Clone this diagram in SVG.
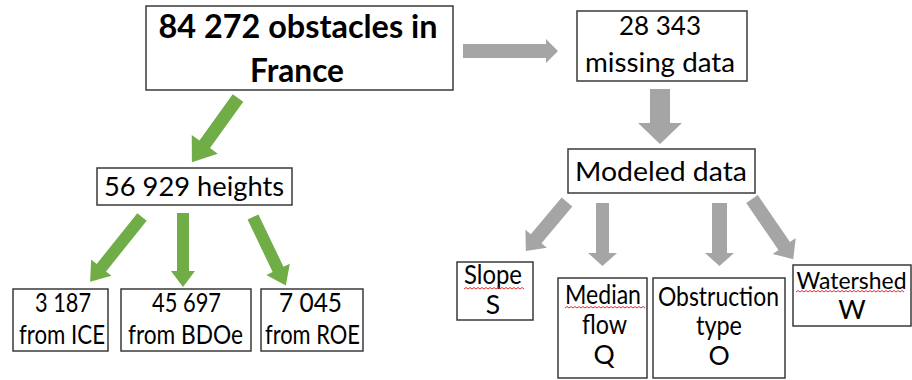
<svg xmlns="http://www.w3.org/2000/svg" width="912" height="380" viewBox="0 0 912 380">
<style>
.box{fill:#fff;stroke:#3a3a3a;stroke-width:1.5}
.t{font-family:Lato,"Open Sans","Liberation Sans",sans-serif;font-size:26.5px;fill:#000;text-anchor:middle}
.tb{font-family:Lato,"Open Sans","Liberation Sans",sans-serif;font-size:33px;font-weight:bold;fill:#000;text-anchor:middle}
.g{fill:#70AD47}
.gr{fill:#A5A5A5}
.wave{fill:none;stroke:#e03030;stroke-width:1}
</style>
<rect width="912" height="380" fill="#fff"/>
<g id="connectors">
  <polygon class="g" transform="translate(238,98) rotate(125.7)" points="0,-6.5 57,-6.5 57,-16 79,0 57,16 57,6.5 0,6.5"/>
  <polygon class="g" transform="translate(142,217) rotate(128.7)" points="0,-6 65,-6 65,-13 83,0 65,13 65,6 0,6"/>
  <polygon class="g" transform="translate(183,213) rotate(90)" points="0,-6 58,-6 58,-12 74,0 58,12 58,6 0,6"/>
  <polygon class="g" transform="translate(253,217) rotate(64.4)" points="0,-6 58,-6 58,-13 76,0 58,13 58,6 0,6"/>
  <polygon class="gr" points="463,44 546,44 546,39 558,51 546,63 546,58 463,58"/>
  <polygon class="gr" points="650,89 670,89 670,123 682,123 660,144 638,123 650,123"/>
  <polygon class="gr" points="596,203 609,203 609,253 617,253 602.5,266 588,253 596,253"/>
  <polygon class="gr" points="712,203 727,203 727,253 734,253 719.5,266 705,253 712,253"/>
  <polygon class="gr" transform="translate(567,202) rotate(130)" points="0,-7 48,-7 48,-14 64,0 48,14 48,7 0,7"/>
  <polygon class="gr" transform="translate(752,199) rotate(55.6)" points="0,-7 57,-7 57,-14 73,0 57,14 57,7 0,7"/>
</g>
<g id="n-obstacles">
  <rect class="box" x="146" y="6" width="307" height="84"/>
  <text class="tb" x="298" y="38" textLength="279" lengthAdjust="spacingAndGlyphs">84 272 obstacles in</text>
  <text class="tb" x="297" y="82" textLength="94" lengthAdjust="spacingAndGlyphs">France</text>
</g>
<g id="n-missing">
  <rect class="box" x="577" y="11" width="170" height="70"/>
  <text class="t" x="660" y="35" textLength="82" lengthAdjust="spacingAndGlyphs">28 343</text>
  <text class="t" x="660" y="72" textLength="150" lengthAdjust="spacingAndGlyphs">missing data</text>
</g>
<g id="n-modeled">
  <rect class="box" x="568" y="149" width="187" height="44"/>
  <text class="t" x="661" y="181" textLength="172" lengthAdjust="spacingAndGlyphs">Modeled data</text>
</g>
<g id="n-heights">
  <rect class="box" x="97" y="168" width="195" height="37"/>
  <text class="t" x="194" y="196" textLength="180" lengthAdjust="spacingAndGlyphs">56 929 heights</text>
</g>
<g id="n-ice">
  <rect class="box" x="13" y="289" width="95" height="62"/>
  <text class="t" x="63" y="312" textLength="56" lengthAdjust="spacingAndGlyphs">3 187</text>
  <text class="t" x="62" y="344" textLength="86" lengthAdjust="spacingAndGlyphs">from ICE</text>
</g>
<g id="n-bdoe">
  <rect class="box" x="121" y="289" width="130" height="62"/>
  <text class="t" x="186.5" y="312" textLength="69" lengthAdjust="spacingAndGlyphs">45 697</text>
  <text class="t" x="185.5" y="344" textLength="115" lengthAdjust="spacingAndGlyphs">from BDOe</text>
</g>
<g id="n-roe">
  <rect class="box" x="261" y="289" width="102" height="62"/>
  <text class="t" x="310.5" y="312" textLength="63" lengthAdjust="spacingAndGlyphs">7 045</text>
  <text class="t" x="312.5" y="344" textLength="95" lengthAdjust="spacingAndGlyphs">from ROE</text>
</g>
<g id="n-slope">
  <rect class="box" x="457" y="262" width="76" height="58"/>
  <text class="t" x="493" y="284" textLength="58" lengthAdjust="spacingAndGlyphs">Slope</text>
  <path class="wave" d="M464 289 l2-1.5 2 1.5 2-1.5 2 1.5 2-1.5 2 1.5 2-1.5 2 1.5 2-1.5 2 1.5 2-1.5 2 1.5 2-1.5 2 1.5 2-1.5 2 1.5 2-1.5 2 1.5 2-1.5 2 1.5 2-1.5 2 1.5 2-1.5 2 1.5 2-1.5 2 1.5 2-1.5 2 1.5 2-1.5 2 1.5"/>
  <text class="t" x="493" y="314">S</text>
</g>
<g id="n-median">
  <rect class="box" x="558" y="278" width="89" height="100"/>
  <text class="t" x="603" y="304" textLength="76" lengthAdjust="spacingAndGlyphs">Median</text>
  <path class="wave" d="M565 308 l2-1.5 2 1.5 2-1.5 2 1.5 2-1.5 2 1.5 2-1.5 2 1.5 2-1.5 2 1.5 2-1.5 2 1.5 2-1.5 2 1.5 2-1.5 2 1.5 2-1.5 2 1.5 2-1.5 2 1.5 2-1.5 2 1.5 2-1.5 2 1.5 2-1.5 2 1.5 2-1.5 2 1.5 2-1.5 2 1.5 2-1.5 2 1.5 2-1.5 2 1.5 2-1.5 2 1.5 2-1.5 2 1.5 2-1.5 2 1.5"/>
  <text class="t" x="604.5" y="334" textLength="45" lengthAdjust="spacingAndGlyphs">flow</text>
  <text class="t" x="604" y="364">Q</text>
</g>
<g id="n-obstruction">
  <rect class="box" x="653" y="278" width="132" height="100"/>
  <text class="t" x="718.5" y="306" textLength="121" lengthAdjust="spacingAndGlyphs">Obstruction</text>
  <text class="t" x="719" y="335" textLength="46" lengthAdjust="spacingAndGlyphs">type</text>
  <text class="t" x="719" y="365">O</text>
</g>
<g id="n-watershed">
  <rect class="box" x="793" y="265" width="118" height="61"/>
  <text class="t" x="851.5" y="289" style="font-size:24px" textLength="110" lengthAdjust="spacingAndGlyphs">Watershed</text>
  <path class="wave" d="M796 292 l2-1.5 2 1.5 2-1.5 2 1.5 2-1.5 2 1.5 2-1.5 2 1.5 2-1.5 2 1.5 2-1.5 2 1.5 2-1.5 2 1.5 2-1.5 2 1.5 2-1.5 2 1.5 2-1.5 2 1.5 2-1.5 2 1.5 2-1.5 2 1.5 2-1.5 2 1.5 2-1.5 2 1.5 2-1.5 2 1.5 2-1.5 2 1.5 2-1.5 2 1.5 2-1.5 2 1.5 2-1.5 2 1.5 2-1.5 2 1.5 2-1.5 2 1.5 2-1.5 2 1.5 2-1.5 2 1.5 2-1.5 2 1.5 2-1.5 2 1.5 2-1.5 2 1.5 2-1.5 2 1.5"/>
  <text class="t" x="852" y="319">W</text>
</g>
</svg>
